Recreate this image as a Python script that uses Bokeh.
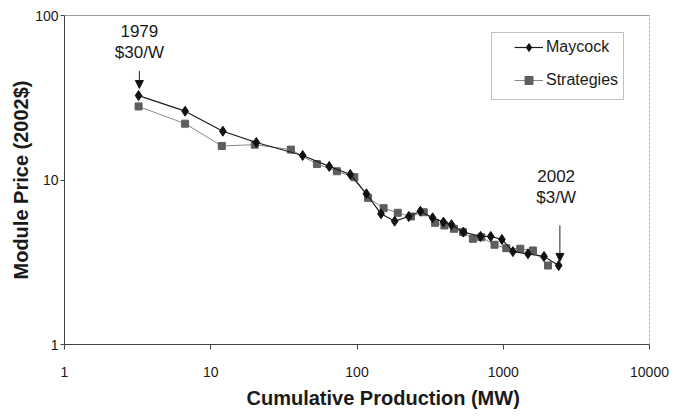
from bokeh.plotting import figure
from bokeh.models import (ColumnDataSource, FixedTicker, Legend, LegendItem, Arrow,
                          NormalHead, LogAxis, Title, BoxAnnotation, Range1d)
from bokeh.core.properties import value
from bokeh.embed import file_html
from bokeh.resources import INLINE

# ---- data ----
maycock_mw = [3.21, 6.68, 12.1, 20.5, 42.5, 64.6, 90, 116, 146, 181,
              226, 271, 329, 390, 443, 534, 700, 821, 979, 1164,
              1476, 1900, 2393]
maycock_price = [32.6, 26.2, 19.8, 16.9, 14.1, 12.1, 10.8, 8.24, 6.23, 5.62,
                 6.0, 6.46, 5.89, 5.55, 5.35, 4.82, 4.54, 4.54, 4.35, 3.67,
                 3.56, 3.43, 3.02]
strat_mw = [3.21, 6.68, 11.9, 20.0, 35.3, 53.2, 72.9, 95.9, 119, 152,
            190, 234, 286, 342, 396, 460, 530, 620, 707, 872,
            1049, 1308, 1597, 2024]
strat_price = [28.0, 22.0, 16.1, 16.4, 15.3, 12.5, 11.3, 10.4, 7.79, 6.74,
               6.32, 6.0, 6.37, 5.49, 5.29, 5.05, 4.82, 4.39, 4.49, 4.04,
               3.85, 3.82, 3.73, 3.02]

x_ticks = [1, 10, 100, 1000, 10000]
x_tick_labels = ["1", "10", "100", "1000", "10000"]
y_ticks = [1, 10, 100]
y_tick_labels = ["1", "10", "100"]

note_text = ["1979\n$30/W", "2002\n$3/W"]
note_x = [3.25, 2300]
note_y = [69, 9.1]
arrow_x = [3.25, 2440]
arrow_y_start = [46, 5.3]
arrow_y_end = [36, 3.2]

FONT = "Liberation Sans"
TXT = "#1a1a1a"

p = figure(width=674, height=417, x_axis_type="log", y_axis_type="log",
           x_range=Range1d(1, 10000), y_range=Range1d(1, 100),
           output_backend="svg", toolbar_location=None, title=None,
           min_border_left=64, min_border_right=25, min_border_top=15,
           min_border_bottom=73)
p.grid.visible = False
p.outline_line_color = None
p.background_fill_color = "white"
p.border_fill_color = "white"

# axes
for ax, ticks, labels in ((p.xaxis[0], x_ticks, x_tick_labels),
                          (p.yaxis[0], y_ticks, y_tick_labels)):
    ax.ticker = FixedTicker(ticks=ticks)
    ax.major_label_overrides = {t: l for t, l in zip(ticks, labels)}
    ax.axis_line_color = "#444444"
    ax.major_tick_line_color = "#444444"
    ax.major_tick_in = 0
    ax.minor_tick_line_color = None
    ax.major_label_text_font = FONT
    ax.major_label_text_font_size = "14px"
    ax.major_label_text_color = TXT

p.xaxis.major_tick_out = 5
p.xaxis.major_label_standoff = 17
p.yaxis.major_tick_out = 4
p.yaxis.major_label_standoff = 2

p.yaxis.axis_label = "Module Price (2002$)"
p.yaxis.axis_label_text_font = FONT
p.yaxis.axis_label_text_font_size = "20px"
p.yaxis.axis_label_text_font_style = "bold"
p.yaxis.axis_label_text_color = TXT
p.yaxis.axis_label_standoff = 0

# x-axis title (placed like the original: right of the frame centre)
xt = Title(text="Cumulative Production (MW)", align="left", offset=182,
           vertical_align="bottom", text_font=FONT, text_font_size="20px",
           text_font_style="bold", text_color=TXT, standoff=10)
p.add_layout(xt, "below")

# top / right frame lines
top_ax = LogAxis(ticker=FixedTicker(ticks=[]), axis_line_color="#9a9a9a",
                 major_tick_line_color=None, minor_tick_line_color=None,
                 major_tick_out=0, minor_tick_out=0, major_label_standoff=0)
p.add_layout(top_ax, "above")
right_ax = LogAxis(ticker=FixedTicker(ticks=[]), axis_line_color="#9a9a9a",
                   axis_line_dash="2 2",
                   major_tick_line_color=None, minor_tick_line_color=None,
                   major_tick_out=0, minor_tick_out=0, major_label_standoff=0)
p.add_layout(right_ax, "right")

# series
rs = p.line(strat_mw, strat_price, line_color="#8a8a8a", line_width=1)
ss = p.scatter(strat_mw, strat_price, marker="square", size=7,
               fill_color="#5e5e5e", line_color="#5e5e5e")
rm = p.line(maycock_mw, maycock_price, line_color="#1e1e1e", line_width=1.2)
sm = p.scatter(maycock_mw, maycock_price, marker="diamond", size=10,
               fill_color="#111111", line_color="#111111")

# annotations
arrow_src = ColumnDataSource(dict(x=arrow_x, y0=arrow_y_start, y1=arrow_y_end))
p.add_layout(Arrow(end=NormalHead(size=8, fill_color="#111111", line_color="#111111"),
                   x_start="x", y_start="y0", x_end="x", y_end="y1",
                   source=arrow_src, line_color="#222222", line_width=1))
p.text(x=note_x, y=note_y, text=note_text, text_align="center",
       text_baseline="middle", text_font=value(FONT), text_font_size="17px",
       text_line_height=1.1, text_color=TXT)

# legend
legend = Legend(items=[LegendItem(label="Maycock", renderers=[rm, sm]),
                       LegendItem(label="Strategies", renderers=[rs, ss])],
                location=(450, 254), padding=6, spacing=13, glyph_width=29,
                glyph_height=20, label_standoff=3, label_text_font=FONT,
                label_text_font_size="16px", label_text_color=TXT,
                border_line_color=None, background_fill_alpha=0, margin=0)
p.add_layout(legend)
p.add_layout(BoxAnnotation(left=427, right=559, bottom=245, top=312,
                           left_units="screen", right_units="screen",
                           top_units="screen", bottom_units="screen",
                           fill_color=None, line_color="#333333", line_width=1))

open("out.html", "w").write(file_html(p, INLINE))
